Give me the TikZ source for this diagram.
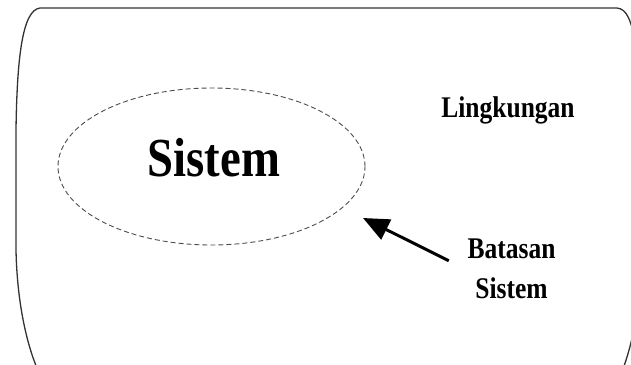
\documentclass[tikz,border=0pt]{standalone}
\usepackage{fontspec}
\newfontfamily\tebal[FakeStretch=0.85]{Liberation Serif}
\usetikzlibrary{arrows.meta}
\usetikzlibrary{shapes.geometric}

\begin{document}
\begin{tikzpicture}[x=1pt,y=-1pt]
\useasboundingbox (0,0) rectangle (631,364);
\clip (0,0) rectangle (631,364);
\coordinate (A) at (40,8);
\coordinate (B) at (617,8);
\coordinate (C) at (16,130);
\coordinate (D) at (16,250);
\coordinate (ujung) at (363,218);
% lingkungan (batas luar)
\draw[line width=1.3pt, black!80] (B) -- (A) .. controls (22,10) and (17,60) .. (C) -- (D) .. controls (17,300) and (26,345) .. (40,375);
\draw[line width=1.3pt, black!80] (B) .. controls (627,9) and (631,20) .. (636,45);
\draw[line width=1.3pt, black!80] (622,372) .. controls (627,358) and (631,345) .. (636,320);
% sistem
\node[draw=black!70, line width=0.9pt, dash pattern=on 5pt off 3pt, ellipse, minimum width=307pt, minimum height=157pt, inner sep=0pt] (batas) at (211.5,166.5) {};
\node[font=\tebal\bfseries\fontsize{55}{60}\selectfont, anchor=base] (sistem) at (214,176) {Sistem};
\node[font=\tebal\bfseries\fontsize{30}{36}\selectfont, anchor=base] (lingkungan) at (508,117) {Lingkungan};
\node[font=\tebal\bfseries\fontsize{30}{40}\selectfont, align=center, anchor=base] (batasan) at (511.5,298) {Batasan\\Sistem};
\draw[line width=3pt, shorten <=17pt, -{Triangle[length=26pt,width=22pt]}] (batasan.west) -- (ujung);
\end{tikzpicture}
\end{document}
